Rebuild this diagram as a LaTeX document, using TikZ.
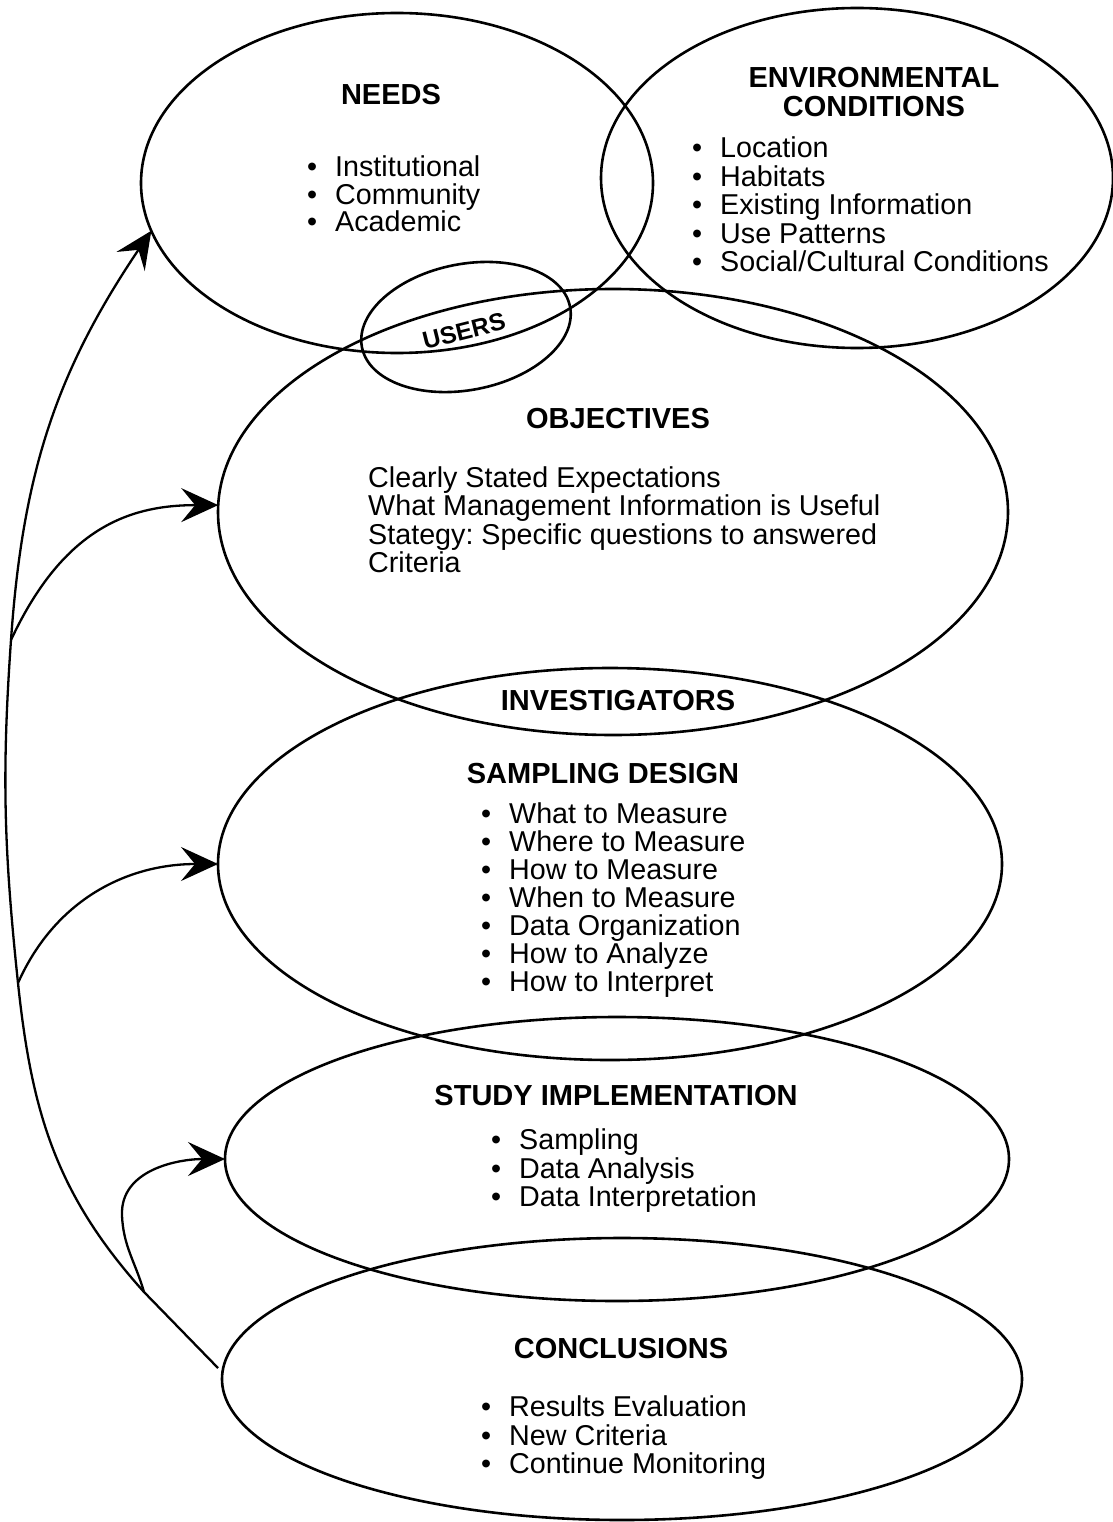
\documentclass[tikz,border=0pt]{standalone}
\usepackage{fontspec}
\setmainfont{Liberation Sans}
\usetikzlibrary{shapes.geometric,arrows.meta}
\newcommand{\bul}{\makebox[28pt][l]{\textbullet}}
\frenchspacing
\begin{document}
\begin{tikzpicture}[x=1pt,y=-1pt,
  ell/.style={draw, ellipse, line width=2.6pt, inner sep=0pt, outer sep=0pt},
  head/.style={font=\fontsize{29}{29}\selectfont\bfseries, inner sep=0pt, anchor=base},
  txt/.style={font=\fontsize{28.7}{28.7}\selectfont, inner sep=0pt, anchor=base west},
  arr/.style={line width=2.3pt, -{Stealth[length=37pt,width=34pt,inset=14pt]}}]
\useasboundingbox (0,0) rectangle (1112,1522);

% ellipses
\node[ell, minimum width=512pt, minimum height=340pt] (needs) at (397,183) {};
\node[ell, minimum width=512pt, minimum height=340pt] (env) at (857,178) {};
\node[ell, minimum width=212pt, minimum height=126pt, rotate=11] (users) at (466,327) {};
\node[ell, minimum width=790pt, minimum height=446pt] (obj) at (613,512) {};
\node[ell, minimum width=784pt, minimum height=392pt] (samp) at (610,864) {};
\node[ell, minimum width=784pt, minimum height=284pt] (study) at (617,1159) {};
\node[ell, minimum width=800pt, minimum height=282pt] (concl) at (622,1379) {};

% headings
\node[head] (hneeds) at (391,105) {NEEDS};
\node[head] (henv1) at (874,88) {ENVIRONMENTAL};
\node[head] (henv2) at (874,117) {CONDITIONS};
\node[head, anchor=center, rotate=14, font=\fontsize{24.5}{24.5}\selectfont\bfseries] (husers) at (464,331) {USERS};
\node[head] (hobj) at (618,428) {OBJECTIVES};
\node[head] (hinv) at (618,710) {INVESTIGATORS};
\node[head] (hsamp) at (603,783) {SAMPLING DESIGN};
\node[head] (hstudy) at (616,1105) {STUDY IMPLEMENTATION};
\node[head] (hconcl) at (621,1358) {CONCLUSIONS};

% needs list
\node[txt] (n1) at (307,177) {\bul Institutional};
\node[txt] (n2) at (307,205) {\bul Community};
\node[txt] (n3) at (307,232) {\bul Academic};

% environmental list
\node[txt] (e1) at (692,158) {\bul Location};
\node[txt] (e2) at (692,186.5) {\bul Habitats};
\node[txt] (e3) at (692,215) {\bul Existing Information};
\node[txt] (e4) at (692,243.5) {\bul Use Patterns};
\node[txt] (e5) at (692,272) {\bul Social/Cultural Conditions};

% objectives
\node[txt] (o1) at (368,487) {Clearly Stated Expectations};
\node[txt] (o2) at (368,515) {What Management Information is Useful};
\node[txt] (o3) at (368,544) {Stategy: Specific questions to answered};
\node[txt] (o4) at (368,572) {Criteria};

% sampling design
\node[txt] (s1) at (481,823) {\bul What to Measure};
\node[txt] (s2) at (481,851) {\bul Where to Measure};
\node[txt] (s3) at (481,879) {\bul How to Measure};
\node[txt] (s4) at (481,907) {\bul When to Measure};
\node[txt] (s5) at (481,935) {\bul Data Organization};
\node[txt] (s6) at (481,963) {\bul How to Analyze};
\node[txt] (s7) at (481,991) {\bul How to Interpret};

% study implementation
\node[txt] (i1) at (491,1149) {\bul Sampling};
\node[txt] (i2) at (491,1178) {\bul Data Analysis};
\node[txt] (i3) at (491,1206) {\bul Data Interpretation};

% conclusions
\node[txt] (c1) at (481,1416) {\bul Results Evaluation};
\node[txt] (c2) at (481,1445) {\bul New Criteria};
\node[txt] (c3) at (481,1473) {\bul Continue Monitoring};

% connectors
\coordinate (cs) at (218,1368);
\coordinate (j1) at (144,1292);
\coordinate (jb) at (18,983);
\coordinate (ja) at (11,640);
\coordinate (sb) at (122,1215);

\draw[arr] (cs) -- (j1) to[out=132,in=-84] (jb) to[out=96,in=-94] (ja) to[out=86,in=-124] (needs.191);
\draw[arr] (ja) to[out=65,in=180,out looseness=1.3,in looseness=0.9] (obj.179);
\draw[arr] (jb) to[out=66,in=180] (samp.180);
\draw[arr] (j1) to[out=106,in=-88] (sb) to[out=92,in=180] (study.west);
\end{tikzpicture}
\end{document}
